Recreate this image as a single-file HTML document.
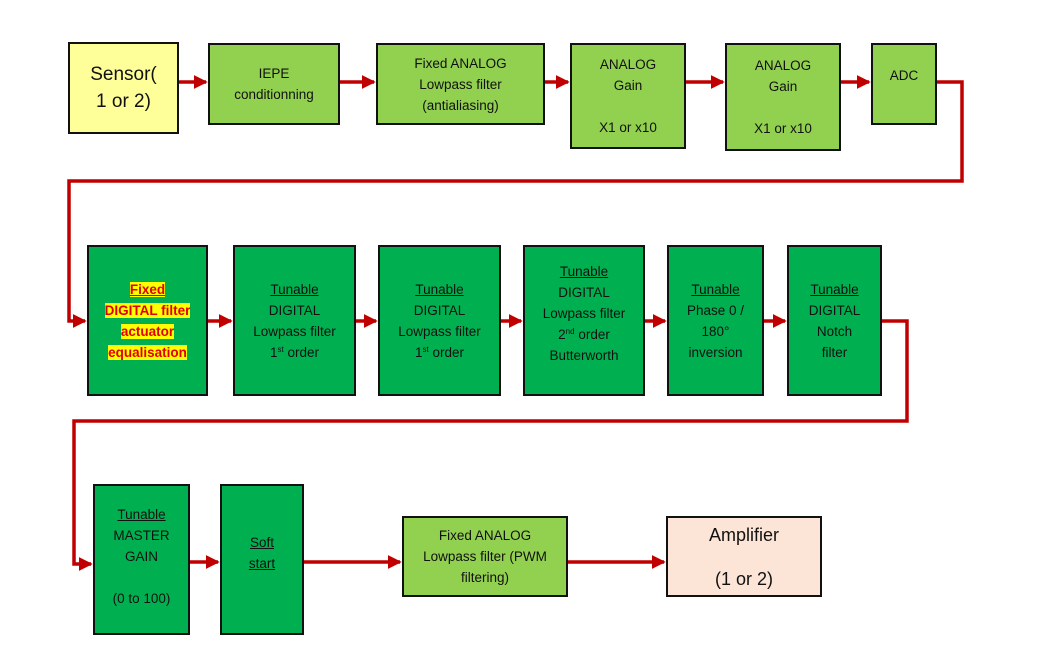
<!DOCTYPE html>
<html><head><meta charset="utf-8"><style>
body{margin:0;width:1038px;height:651px;background:#fff;position:relative;overflow:hidden;font-family:"Liberation Sans",sans-serif;}
.b{position:absolute;box-sizing:border-box;border:2px solid #111;display:flex;flex-direction:column;justify-content:center;align-items:center;text-align:center;font-size:13.5px;line-height:21px;color:#111;}
.b div{white-space:nowrap}
.lg{background:#92D050}.dg{background:#00B050}
u{text-decoration:underline}
sup{font-size:8px;line-height:0;vertical-align:5px}
svg{position:absolute;left:0;top:0}
.hl{background:#ffff00;color:#e00000;font-weight:bold}
</style></head><body>
<svg width="1038" height="651">
<defs><marker id="a" markerWidth="4" markerHeight="4" refX="3.5" refY="2" orient="auto" markerUnits="strokeWidth"><path d="M0,0L4,2L0,4z" fill="#C00000"/></marker></defs>
<g stroke="#C00000" stroke-width="3.5" fill="none" marker-end="url(#a)">
<path d="M179,82H206"/><path d="M340,82H374"/><path d="M545,82H568"/><path d="M686,82H723"/><path d="M841,82H869"/>
<path d="M937,82H962V181H69V321H85"/>
<path d="M208,321H231"/><path d="M356,321H376"/><path d="M501,321H521"/><path d="M645,321H665"/><path d="M764,321H785"/>
<path d="M882,321H907V421H74V564H91"/>
<path d="M190,562H218"/><path d="M304,562H400"/><path d="M568,562H664"/>
</g></svg>
<div class="b" style="left:68px;top:42px;width:111px;height:92px;background:#FFFF99;font-size:19px;line-height:27px"><div>Sensor(</div><div>1 or 2)</div></div>
<div class="b lg" style="left:208px;top:43px;width:132px;height:82px"><div>IEPE</div><div>conditionning</div></div>
<div class="b lg" style="left:376px;top:43px;width:169px;height:82px"><div>Fixed ANALOG</div><div>Lowpass filter</div><div>(antialiasing)</div></div>
<div class="b lg" style="left:570px;top:43px;width:116px;height:106px"><div>ANALOG</div><div>Gain</div><div>&nbsp;</div><div>X1 or x10</div></div>
<div class="b lg" style="left:725px;top:43px;width:116px;height:108px"><div>ANALOG</div><div>Gain</div><div>&nbsp;</div><div>X1 or x10</div></div>
<div class="b lg" style="left:871px;top:43px;width:66px;height:82px;justify-content:flex-start;padding-top:20px"><div>ADC</div></div>
<div class="b dg" style="left:87px;top:245px;width:121px;height:151px"><div><span class="hl"><u>Fixed</u></span></div><div><span class="hl">DIGITAL filter</span></div><div><span class="hl">actuator</span></div><div><span class="hl">equalisation</span></div></div>
<div class="b dg" style="left:233px;top:245px;width:123px;height:151px"><div><u>Tunable</u></div><div>DIGITAL</div><div>Lowpass filter</div><div>1<sup>st</sup> order</div></div>
<div class="b dg" style="left:378px;top:245px;width:123px;height:151px"><div><u>Tunable</u></div><div>DIGITAL</div><div>Lowpass filter</div><div>1<sup>st</sup> order</div></div>
<div class="b dg" style="left:523px;top:245px;width:122px;height:151px;justify-content:flex-start;padding-top:14px"><div><u>Tunable</u></div><div>DIGITAL</div><div>Lowpass filter</div><div>2<sup>nd</sup> order</div><div>Butterworth</div></div>
<div class="b dg" style="left:667px;top:245px;width:97px;height:151px"><div><u>Tunable</u></div><div>Phase 0 /</div><div>180°</div><div>inversion</div></div>
<div class="b dg" style="left:787px;top:245px;width:95px;height:151px"><div><u>Tunable</u></div><div>DIGITAL</div><div>Notch</div><div>filter</div></div>
<div class="b dg" style="left:93px;top:484px;width:97px;height:151px;justify-content:flex-start;padding-top:18px"><div><u>Tunable</u></div><div>MASTER</div><div>GAIN</div><div>&nbsp;</div><div>(0 to 100)</div></div>
<div class="b dg" style="left:220px;top:484px;width:84px;height:151px;justify-content:flex-start;padding-top:46px"><div><u>Soft</u></div><div><u>start</u></div></div>
<div class="b lg" style="left:402px;top:516px;width:166px;height:81px"><div>Fixed ANALOG</div><div>Lowpass filter (PWM</div><div>filtering)</div></div>
<div class="b" style="left:666px;top:516px;width:156px;height:81px;background:#FCE4D6;font-size:18px;line-height:22px"><div>Amplifier</div><div>&nbsp;</div><div>(1 or 2)</div></div>
</body></html>
